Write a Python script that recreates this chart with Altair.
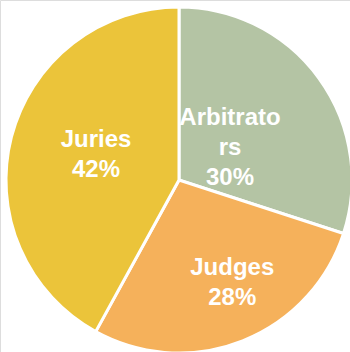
import altair as alt
import pandas as pd

categories = ["Arbitrators", "Judges", "Juries"]
shares = [30, 28, 42]
labels = ["Arbitrato\nrs\n30%", "Judges\n28%", "Juries\n42%"]
colors = ["#B4C4A4", "#F5B15B", "#EBC43A"]

df = pd.DataFrame({"category": categories, "share": shares, "label": labels,
                   "idx": list(range(len(categories)))})

CX, CY, R = 179, 180, 173
LH = 30

base = alt.Chart(df)

pie = base.mark_arc(outerRadius=R, stroke="white", strokeWidth=3).encode(
    theta=alt.Theta("share:Q", stack=True),
    order=alt.Order("idx:Q"),
    color=alt.Color("category:N", scale=alt.Scale(domain=categories, range=colors), legend=None),
    x=alt.value(CX), y=alt.value(CY),
)

txt_base = base.transform_joinaggregate(total="sum(share)").transform_window(
    cum="sum(share)", sort=[alt.SortField("idx")]
).transform_calculate(
    mid="(datum.cum - datum.share/2)/datum.total*2*PI"
)

# per-label placement (radius, dx, dy, number of lines)
place = {"Arbitrators": (60, 2.5, 3, 3), "Judges": (112, 12, -1.5, 2), "Juries": (87, 1.3, -3, 2)}

layers = [pie]
for cat in categories:
    r, dx, dy, n = place[cat]
    layers.append(
        txt_base.transform_filter(alt.datum.category == cat).mark_text(
            font="Liberation Sans", fontWeight="bold", fontSize=24, color="white",
            lineBreak="\n", lineHeight=LH, align="center", baseline="middle",
            dx=dx, dy=dy - (n - 1) / 2 * LH,
        ).encode(
            theta=alt.Theta("mid:Q", scale=None),
            radius=alt.value(r),
            text="label:N",
            x=alt.value(CX), y=alt.value(CY),
        )
    )

chart = alt.layer(*layers).properties(
    width=350, height=352, autosize=alt.AutoSizeParams(type="none"), padding=0
).configure_view(stroke=None).configure(background="white")

chart.save("out.html", embed_options={"renderer": "svg", "actions": False})
